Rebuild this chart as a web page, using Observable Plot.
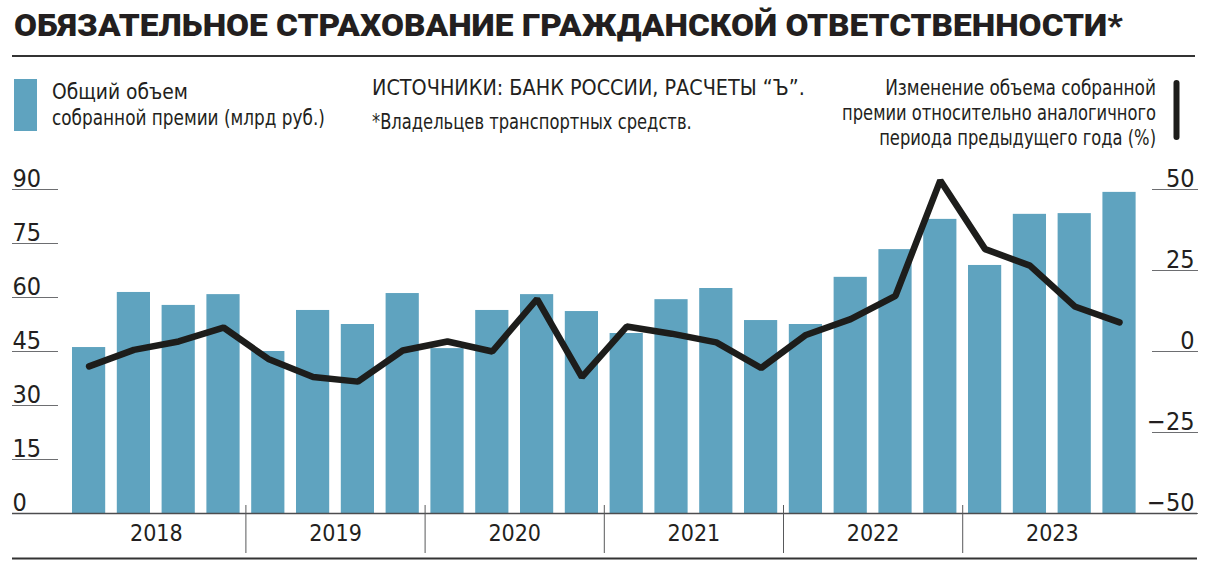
<!DOCTYPE html>
<html><head><meta charset="utf-8">
<script src="https://cdn.jsdelivr.net/npm/d3@7"></script>
<script src="https://cdn.jsdelivr.net/npm/@observablehq/plot@0.6"></script>
<style>
body{margin:0;background:#fff;}
#wrap{position:relative;width:1213px;height:571px;overflow:hidden;background:#fff;color:#231f20;}
#head{position:absolute;left:0;top:0;overflow:visible;}
#chart{position:absolute;left:0;top:150px;}
</style></head><body>
<div id="wrap"><div id="chart"></div><svg id="head" width="1213" height="165"></svg></div>
<script>
// ---- data ----
const years = [2018, 2019, 2020, 2021, 2022, 2023];
const quarterLabels = ["I", "II", "III", "IV"];
// total collected premium, bn rub (left axis)
const premium = [46.1, 61.4, 57.8, 60.8, 45.0, 56.4, 52.5, 61.1, 45.8, 56.4, 60.8, 56.1,
                 50.0, 59.4, 62.5, 53.6, 52.5, 65.6, 73.3, 81.7, 68.9, 83.1, 83.3, 89.2];
// change vs same period of previous year, % (right axis)
const change = [-4.6, 0.5, 3.1, 7.4, -2.3, -7.9, -9.3, 0.3, 3.1, 0.0, 16.2, -7.9,
                7.7, 5.5, 2.8, -5.1, 5.1, 10.0, 17.2, 52.8, 31.6, 26.5, 13.9, 9.0];
const leftTicks = [0, 15, 30, 45, 60, 75, 90];
const rightTicks = [-50, -25, 0, 25, 50];

const title = "ОБЯЗАТЕЛЬНОЕ СТРАХОВАНИЕ ГРАЖДАНСКОЙ ОТВЕТСТВЕННОСТИ*";
const legendBars = ["Общий объем", "собранной премии (млрд руб.)"];
const sourceLines = ["ИСТОЧНИКИ: БАНК РОССИИ, РАСЧЕТЫ “Ъ”.", "*Владельцев транспортных средств."];
const legendLine = ["Изменение объема собранной", "премии относительно аналогичного", "периода предыдущего года (%)"];

const BAR = "#5fa3bf", INK = "#231f20", LINE = "#1d1d1b", GRID = "#6d6e71";
const NARROW = '"Liberation Sans Narrow","DejaVu Sans Condensed","Arial Narrow",sans-serif';

// ---- header ----
const head = d3.select("#head");
// text placed at (x, y) and squeezed horizontally to the width it has in the reference
function put(s, x, y, {size = 22, anchor = "start", len = null, family = NARROW, weight = 400} = {}) {
  const t = head.append("text").attr("x", 0).attr("y", 0).attr("font-size", size)
    .attr("font-family", family).attr("font-weight", weight).attr("fill", INK)
    .attr("text-anchor", anchor).attr("transform", `translate(${x},${y})`).text(s);
  if (len) {
    const w = t.node().getComputedTextLength();
    if (w > 0) t.attr("transform", `translate(${x},${y}) scale(${(len / w).toFixed(4)},1)`);
  }
  return t;
}
put(title, 14, 36, {size: 31, family: '"Roboto","Inter",sans-serif', weight: 900, len: 1109});
head.append("line").attr("x1", 12).attr("x2", 1195).attr("y1", 56).attr("y2", 56)
  .attr("stroke", "#333").attr("stroke-width", 2);
head.append("rect").attr("x", 14).attr("y", 79).attr("width", 23).attr("height", 52).attr("fill", BAR);
put(legendBars[0], 52, 98.5, {len: 136});
put(legendBars[1], 52, 125, {len: 273});
put(sourceLines[0], 372, 95, {len: 433});
put(sourceLines[1], 372, 129, {len: 320});
put(legendLine[0], 1156, 95, {anchor: "end", len: 271});
put(legendLine[1], 1156, 120, {anchor: "end", len: 314});
put(legendLine[2], 1156, 145, {anchor: "end", len: 277});
head.append("line").attr("x1", 1176.5).attr("x2", 1176.5).attr("y1", 83).attr("y2", 137)
  .attr("stroke", LINE).attr("stroke-width", 6).attr("stroke-linecap", "round");

// ---- chart ----
const rows = premium.map((v, i) => ({
  i, year: years[Math.floor(i / 4)], quarter: quarterLabels[i % 4], premium: v, change: change[i]
}));
const toLeft = v => 45 + v * 0.9; // right axis (-50..50) onto left axis (0..90)
const fmt = v => (v < 0 ? "\u2212" + Math.abs(v) : String(v));
const separators = years.slice(1).map((y, k) => (k + 1) * 4 - 0.5);
const yearLabels = years.map((y, k) => ({year: y, center: k * 4 + 1.5}));

const chart = Plot.plot({
  width: 1213, height: 421,
  marginLeft: 58, marginRight: 62, marginTop: 39, marginBottom: 58,
  x: {type: "linear", domain: [-0.683, 23.714], label: null},
  y: {domain: [0, 90], label: null},
  style: {fontFamily: NARROW, color: INK, background: "transparent", overflow: "visible"},
  marks: [
    Plot.rect(rows, {x1: d => d.i - 0.5, x2: d => d.i + 0.5, y1: 0, y2: "premium",
      insetLeft: 5.8, insetRight: 5.8, fill: BAR}),
    Plot.axisY(leftTicks, {anchor: "left", tickSize: 46, fill: "none", stroke: GRID, label: null}),
    Plot.text(leftTicks, {y: d => d, text: d => String(d), frameAnchor: "left", dx: -46,
      textAnchor: "start", lineAnchor: "bottom", dy: -3, fontSize: 25, fill: INK}),
    Plot.axisY(rightTicks.map(toLeft), {anchor: "right", tickSize: 46, fill: "none", stroke: GRID, label: null}),
    Plot.text(rightTicks, {y: d => toLeft(d), text: fmt, frameAnchor: "right", dx: 43,
      textAnchor: "end", lineAnchor: "bottom", dy: -3, fontSize: 25, fill: INK}),
    Plot.ruleY([0], {insetLeft: -46, insetRight: -46, stroke: "#4d4d4f", strokeWidth: 1.5}),
    Plot.axisX(separators, {anchor: "bottom", tickSize: 48, dy: -8, fill: "none", stroke: "#58595b", label: null}),
    Plot.text(yearLabels, {x: "center", text: d => String(d.year), frameAnchor: "bottom", dy: 27,
      fontSize: 23, fill: INK}),
    Plot.ruleY([0], {dy: 45, insetLeft: -46, insetRight: -46, stroke: "#333", strokeWidth: 2}),
    Plot.line(rows, {x: "i", y: d => toLeft(d.change), stroke: LINE, strokeWidth: 6.5,
      strokeLinejoin: "miter", strokeLinecap: "round"})
  ]
});
document.getElementById("chart").appendChild(chart);
</script>
</body></html>
